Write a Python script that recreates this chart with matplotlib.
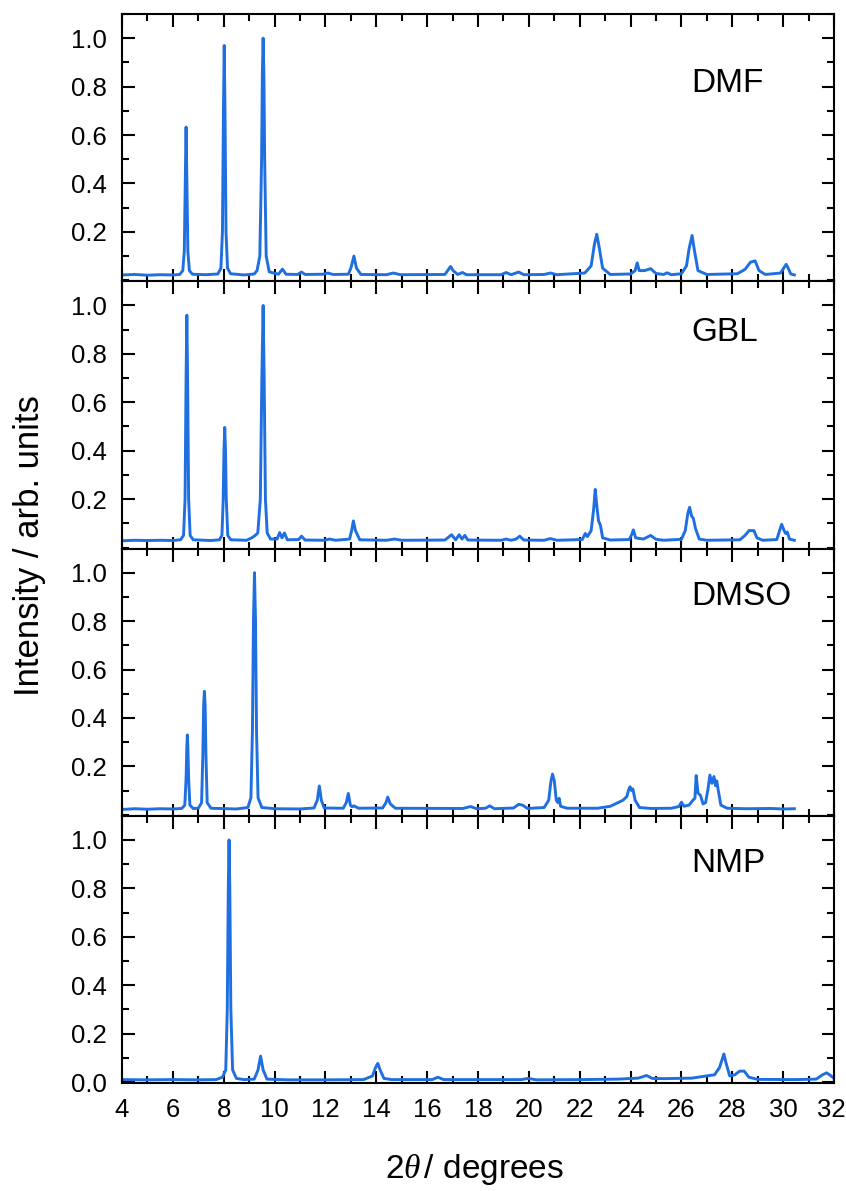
import matplotlib
matplotlib.use("Agg")
import matplotlib.pyplot as plt
import matplotlib.transforms as mtransforms
from matplotlib.ticker import MultipleLocator, FixedLocator, FormatStrFormatter

plt.rcParams['font.family'] = ['Liberation Sans', 'DejaVu Sans']
plt.rcParams['mathtext.fontset'] = 'custom'
plt.rcParams['mathtext.rm'] = 'Liberation Sans'
plt.rcParams['mathtext.it'] = 'Liberation Serif:italic'

labels = ["DMF", "GBL", "DMSO", "NMP"]

dmf_pts = [(4.0,0.022),(4.5,0.024),(5.0,0.021),(5.5,0.023),(6.0,0.022),(6.27,0.024),(6.39,0.04),(6.45,0.12),(6.49,0.42),(6.52,0.633),(6.55,0.42),(6.59,0.12),(6.65,0.04),(6.77,0.025),(7.3,0.023),(7.77,0.026),(7.89,0.05),(7.95,0.2),(7.99,0.7),(8.02,0.97),(8.05,0.7),(8.09,0.2),(8.15,0.05),(8.27,0.027),(8.8,0.022),(9.2,0.026),(9.31,0.04),(9.42,0.1),(9.49,0.5),(9.52,0.85),(9.55,1.0),(9.58,0.85),(9.61,0.5),(9.67,0.1),(9.79,0.035),(10.15,0.025),(10.31,0.046),(10.45,0.025),(10.9,0.024),(11.06,0.034),(11.2,0.024),(11.9,0.025),(12.1,0.03),(12.3,0.024),(12.9,0.025),(13.0,0.05),(13.12,0.10),(13.22,0.05),(13.4,0.024),(14.4,0.023),(14.67,0.03),(14.95,0.023),(16.7,0.024),(16.84,0.045),(16.92,0.057),(17.02,0.04),(17.2,0.024),(17.39,0.032),(17.55,0.023),(18.9,0.023),(19.11,0.032),(19.3,0.023),(19.6,0.034),(19.8,0.023),(20.6,0.024),(20.85,0.03),(21.1,0.023),(22.2,0.03),(22.45,0.06),(22.58,0.15),(22.67,0.19),(22.76,0.14),(22.9,0.05),(23.2,0.024),(24.0,0.026),(24.18,0.04),(24.26,0.072),(24.34,0.04),(24.55,0.04),(24.79,0.048),(25.0,0.028),(25.3,0.024),(25.44,0.031),(25.6,0.023),(26.0,0.027),(26.2,0.06),(26.3,0.13),(26.42,0.185),(26.5,0.13),(26.65,0.04),(27.0,0.024),(28.2,0.027),(28.5,0.045),(28.72,0.075),(28.9,0.08),(29.05,0.04),(29.3,0.024),(29.9,0.03),(30.05,0.055),(30.12,0.066),(30.2,0.05),(30.3,0.026),(30.44,0.022)]

gbl_pts = [(4.0,0.028),(4.5,0.03),(5.0,0.029),(5.5,0.03),(6.0,0.029),(6.30,0.032),(6.42,0.05),(6.48,0.2),(6.52,0.7),(6.55,0.96),(6.58,0.7),(6.62,0.2),(6.68,0.05),(6.80,0.032),(7.5,0.029),(7.83,0.032),(7.93,0.05),(7.98,0.2),(8.01,0.4),(8.04,0.496),(8.07,0.4),(8.10,0.2),(8.16,0.05),(8.28,0.032),(8.9,0.03),(9.1,0.04),(9.24,0.05),(9.34,0.06),(9.44,0.2),(9.50,0.7),(9.55,1.0),(9.59,0.7),(9.64,0.2),(9.71,0.06),(9.84,0.035),(10.1,0.035),(10.2,0.062),(10.29,0.04),(10.39,0.06),(10.5,0.032),(10.95,0.033),(11.06,0.047),(11.2,0.031),(11.95,0.03),(12.16,0.035),(12.4,0.03),(12.95,0.035),(13.03,0.07),(13.1,0.11),(13.18,0.07),(13.35,0.032),(14.4,0.03),(14.71,0.035),(15.0,0.03),(16.7,0.031),(16.96,0.053),(17.12,0.032),(17.26,0.053),(17.37,0.035),(17.48,0.05),(17.6,0.031),(18.9,0.03),(19.11,0.035),(19.3,0.03),(19.5,0.035),(19.64,0.047),(19.8,0.031),(20.6,0.03),(20.85,0.037),(21.1,0.03),(22.1,0.033),(22.22,0.058),(22.3,0.045),(22.45,0.07),(22.55,0.16),(22.61,0.24),(22.67,0.174),(22.74,0.11),(22.82,0.09),(22.9,0.04),(23.2,0.031),(23.95,0.033),(24.05,0.055),(24.11,0.073),(24.2,0.04),(24.5,0.035),(24.79,0.05),(25.0,0.034),(25.3,0.03),(26.0,0.034),(26.15,0.07),(26.25,0.14),(26.32,0.166),(26.40,0.13),(26.47,0.12),(26.55,0.08),(26.7,0.035),(27.0,0.03),(28.3,0.032),(28.5,0.05),(28.66,0.07),(28.85,0.07),(28.97,0.04),(29.2,0.03),(29.75,0.033),(29.86,0.07),(29.94,0.096),(30.04,0.07),(30.1,0.058),(30.16,0.064),(30.25,0.035),(30.44,0.03)]

dmso_pts = [(4.0,0.022),(4.5,0.025),(5.0,0.023),(5.5,0.025),(6.0,0.024),(6.35,0.026),(6.47,0.04),(6.52,0.15),(6.55,0.28),(6.57,0.33),(6.59,0.28),(6.62,0.15),(6.67,0.04),(6.8,0.026),(7.0,0.027),(7.13,0.05),(7.18,0.25),(7.21,0.45),(7.24,0.51),(7.27,0.45),(7.30,0.25),(7.35,0.05),(7.5,0.027),(8.5,0.024),(8.95,0.03),(9.07,0.07),(9.13,0.35),(9.17,0.8),(9.21,1.0),(9.25,0.8),(9.29,0.35),(9.35,0.07),(9.5,0.03),(10.0,0.025),(11.0,0.024),(11.55,0.028),(11.68,0.06),(11.76,0.119),(11.84,0.06),(11.95,0.028),(12.7,0.027),(12.82,0.05),(12.9,0.088),(12.98,0.04),(13.05,0.033),(13.12,0.037),(13.3,0.027),(14.25,0.028),(14.38,0.05),(14.45,0.073),(14.55,0.045),(14.75,0.027),(17.4,0.026),(17.71,0.034),(17.95,0.025),(18.3,0.027),(18.46,0.037),(18.65,0.025),(19.4,0.028),(19.6,0.043),(19.75,0.04),(19.95,0.026),(20.6,0.03),(20.78,0.06),(20.87,0.14),(20.93,0.168),(21.0,0.14),(21.08,0.06),(21.15,0.05),(21.19,0.068),(21.25,0.035),(21.5,0.027),(22.7,0.027),(23.2,0.035),(23.5,0.05),(23.7,0.06),(23.85,0.075),(23.93,0.105),(23.98,0.116),(24.04,0.1),(24.09,0.107),(24.18,0.06),(24.35,0.03),(24.8,0.026),(25.6,0.027),(25.9,0.034),(26.0,0.052),(26.1,0.035),(26.3,0.04),(26.45,0.06),(26.53,0.068),(26.58,0.162),(26.65,0.09),(26.75,0.08),(26.85,0.045),(26.95,0.05),(27.05,0.11),(27.12,0.164),(27.2,0.13),(27.28,0.158),(27.34,0.12),(27.39,0.14),(27.45,0.1),(27.55,0.04),(27.8,0.027),(28.5,0.025),(29.5,0.026),(30.0,0.024),(30.44,0.025)]

nmp_pts = [(4.0,0.01),(5.0,0.009),(6.0,0.01),(7.0,0.009),(7.7,0.01),(7.95,0.02),(8.08,0.05),(8.14,0.3),(8.18,0.8),(8.21,1.0),(8.24,0.8),(8.28,0.3),(8.35,0.05),(8.5,0.015),(8.8,0.01),(9.2,0.012),(9.35,0.05),(9.45,0.107),(9.55,0.05),(9.7,0.012),(10.5,0.009),(12.0,0.009),(13.5,0.01),(13.85,0.025),(13.97,0.06),(14.06,0.077),(14.15,0.05),(14.3,0.015),(14.6,0.01),(16.2,0.01),(16.42,0.02),(16.65,0.01),(19.7,0.01),(19.97,0.015),(20.3,0.009),(22.0,0.01),(23.5,0.012),(24.3,0.016),(24.63,0.027),(24.85,0.015),(25.3,0.014),(26.4,0.016),(26.85,0.023),(27.3,0.03),(27.5,0.06),(27.62,0.1),(27.67,0.116),(27.75,0.08),(27.9,0.025),(28.1,0.03),(28.29,0.045),(28.47,0.045),(28.65,0.02),(29.0,0.011),(30.5,0.01),(31.3,0.012),(31.55,0.03),(31.71,0.038),(31.85,0.028),(32.0,0.015)]

series = [dmf_pts, gbl_pts, dmso_pts, nmp_pts]
label_ypos = [0.74, 0.81, 0.82, 0.82]

x_ticks = [4, 6, 8, 10, 12, 14, 16, 18, 20, 22, 24, 26, 28, 30, 32]
y_ticks_top = [0.2, 0.4, 0.6, 0.8, 1.0]
y_ticks_bottom = [0.0, 0.2, 0.4, 0.6, 0.8, 1.0]

color = '#1f6fe0'

fig = plt.figure(figsize=(8.46, 11.91), dpi=100)
left, right = 122/846, 834/846
bottom, top = 1 - 1083/1191, 1 - 14/1191
h = (top - bottom) / 4

for i, (pts, lab) in enumerate(zip(series, labels)):
    ax = fig.add_axes([left, top - (i+1)*h, right-left, h])
    xs = [p[0] for p in pts]
    ys = [p[1] for p in pts]
    ax.plot(xs, ys, color=color, lw=2.1, solid_joinstyle='round')
    ax.set_xlim(4, 32)
    ax.set_ylim(-0.004, 1.1)
    ax.xaxis.set_major_locator(FixedLocator(x_ticks))
    ax.xaxis.set_minor_locator(MultipleLocator(1))
    ax.yaxis.set_major_locator(FixedLocator(y_ticks_bottom if i == 3 else y_ticks_top))
    ax.yaxis.set_minor_locator(MultipleLocator(0.1))
    ax.tick_params(which='both', direction='in', top=True, right=True, width=1.5, labelsize=18.5)
    ax.tick_params(which='major', length=9)
    ax.tick_params(which='minor', length=5)
    ax.tick_params(axis='x', which='major', pad=11)
    ax.tick_params(axis='y', which='major', pad=11)
    ax.yaxis.set_major_formatter(FormatStrFormatter('%.1f'))
    for s in ax.spines.values():
        s.set_linewidth(1.5)
    if i < 3:
        ax.tick_params(labelbottom=False)
    else:
        fig.canvas.draw()
        last = ax.get_xticklabels()[-1]
        last.set_transform(last.get_transform() + mtransforms.ScaledTranslation(-3/100, 0, fig.dpi_scale_trans))
    ax.text(0.80, label_ypos[i], lab, transform=ax.transAxes, fontsize=24, va='center', ha='left')

fig.text(0.035, 0.542, "Intensity / arb. units", rotation=90, fontsize=25, ha='center', va='center')
fig.text(0.561, 0.011, r"$2\theta\,$/ degrees", fontsize=24, ha='center', va='baseline')

fig.savefig("out.png", dpi=100)
